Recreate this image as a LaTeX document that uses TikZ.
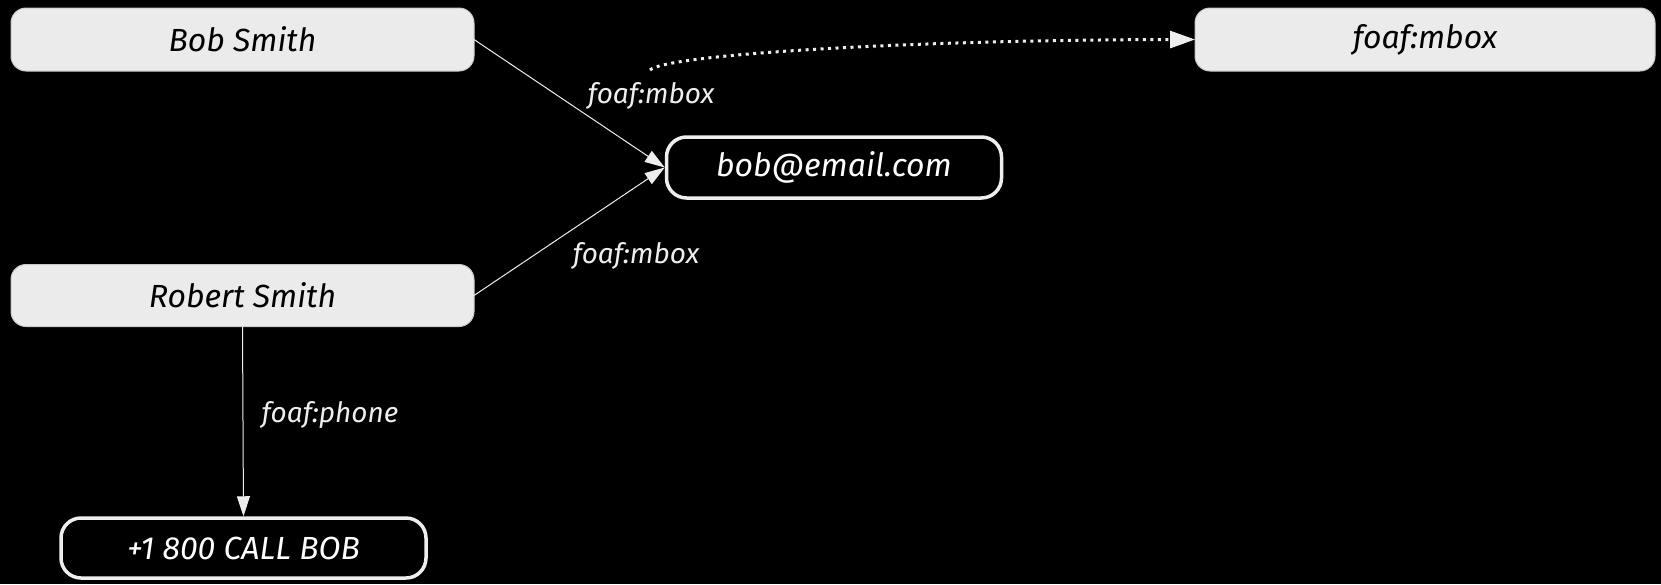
\documentclass[tikz,border=0pt]{standalone}
\usepackage{fontspec}
\setmainfont{Fira Sans}
\usetikzlibrary{arrows.meta}
\definecolor{boxfill}{HTML}{EBEBEB}
\definecolor{boxline}{HTML}{C8C8C8}
\definecolor{wline}{HTML}{EEEEEE}
\begin{document}
\begin{tikzpicture}[x=1pt,y=-1pt,
  graybox/.style={draw=boxline, line width=1pt, fill=boxfill, rounded corners=15pt,
    minimum width=463pt, minimum height=63pt, inner sep=0pt, outer sep=0pt,
    font=\fontsize{32}{38}\selectfont\itshape, text=black},
  litbox/.style={draw=wline, line width=3.5pt, fill=black, rounded corners=20pt,
    inner sep=0pt, outer sep=1.75pt,
    font=\fontsize{32}{38}\selectfont\itshape, text=white},
  conn/.style={draw=wline, line width=1pt, -{Triangle[length=20pt,width=13pt]}},
  edgelabel/.style={font=\fontsize{28}{33}\selectfont\itshape, text=wline, inner sep=0pt}]
\useasboundingbox[fill=black] (0,0) rectangle (1661,584);
\node[graybox] (bob) at (242.5,39.5) {Bob Smith};
\node[graybox, minimum width=460pt] (mbox) at (1425,39.5) {foaf:mbox};
\node[graybox, minimum height=62pt] (robert) at (242.5,295.5) {Robert Smith};
\node[litbox, minimum width=335pt, minimum height=61pt] (email) at (834,167.5) {bob@email.com};
\node[litbox, minimum width=365pt, minimum height=60pt] (phone) at (243.5,548) {+1 800 CALL BOB};
\coordinate (dotstart) at (650,70);
\draw[conn] (bob.east) -- (email.west);
\draw[conn] (robert.east) -- (email.west);
\draw[conn] (robert.south) -- (phone.north);
\draw[draw=wline, line width=3pt, dash pattern=on 3pt off 4.5pt, -{Triangle[length=25pt,width=17pt]}]
  (dotstart) .. controls (665,55) and (900,40) .. (mbox.west);
\node[edgelabel] (l1) at (651,96) {foaf:mbox};
\node[edgelabel] (l2) at (636,256) {foaf:mbox};
\node[edgelabel] (l3) at (330,415) {foaf:phone};
\end{tikzpicture}
\end{document}
